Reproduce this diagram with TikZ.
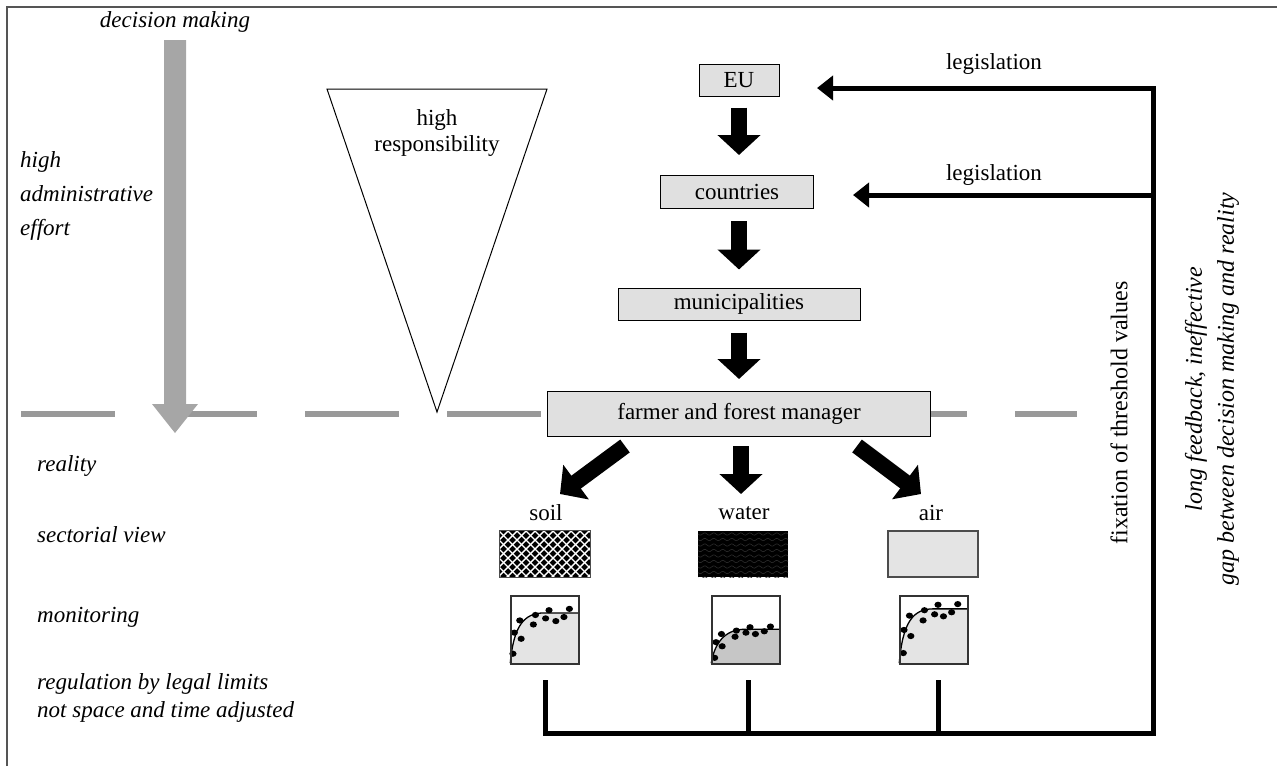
\documentclass[tikz,border=0pt]{standalone}
\usepackage{fontspec}
\setmainfont{Liberation Serif}
\usetikzlibrary{arrows.meta}
\definecolor{boxgray}{HTML}{E0E0E0}
\definecolor{lightfill}{HTML}{E4E4E4}
\definecolor{darkfill}{HTML}{C6C6C6}
\definecolor{dashgray}{HTML}{999999}
\definecolor{arrowgray}{HTML}{A6A6A6}
\definecolor{framegray}{HTML}{555555}
\definecolor{wavegray}{HTML}{2C2C2C}
\begin{document}
\begin{tikzpicture}[x=1pt,y=-1pt,
  every node/.style={font=\fontsize{23}{26}\selectfont, inner sep=0pt},
  lbl/.style={anchor=west, font=\fontsize{23}{26}\selectfont\itshape},
  box/.style={draw=black, line width=1pt, fill=boxgray},
  blk/.style={line width=16pt, -{Triangle[length=20pt,width=42pt]}},
  fb/.style={line width=5pt},
  fbarrow/.style={line width=5pt, -{Triangle[length=16pt,width=24pt]}},
  chartframe/.style={draw=black!80, line width=1.5pt, minimum width=68pt, minimum height=68pt},
  dot/.style={fill=black}
]
\useasboundingbox (0,0) rectangle (1277,766);
% frame
\draw[line width=1.5pt, framegray] (7,766) -- (7,7) -- (1277,7);

% dashed reality line
\draw[dashgray, line width=6pt, dash pattern=on 94pt off 48pt] (21,414) -- (1077,414);

% grey decision arrow
\fill[arrowgray] (164,40) -- (186,40) -- (186,404) -- (198,404) -- (175,433) -- (152,404) -- (164,404) -- cycle;
\node[font=\fontsize{23}{26}\selectfont\itshape] (dm) at (175,22) {decision making};
\node[lbl, align=left, font=\fontsize{23}{34}\selectfont\itshape] (hae) at (20,196) {high\\administrative\\effort};

% triangle
\draw[line width=1pt] (327,89) -- (547,89) -- (437,412) -- cycle;
\node[align=center] (hr) at (437,133) {high\\responsibility};

% hierarchy boxes
\node[box, minimum width=80pt, minimum height=32pt] (eu) at (739,80) {EU};
\node[box, minimum width=153pt, minimum height=33pt] (countries) at (737,192) {countries};
\node[box, minimum width=242pt, minimum height=32pt] (muni) at (739,304) {municipalities};
\node[box, minimum width=383pt, minimum height=45pt] (farmer) at (739,414) {farmer and forest manager};

\draw[blk, shorten <=11pt, shorten >=20pt] (eu.south) -- (eu.south |- countries.north);
\draw[blk, shorten <=12pt, shorten >=18pt] (countries.south -| eu.south) -- (eu.south |- muni.north);
\draw[blk, shorten <=12pt, shorten >=12pt] (muni.south -| eu.south) -- (eu.south |- farmer.north);

% sector labels
\node (soil) at (546,513) {soil};
\node (water) at (744,513) {water};
\node (air) at (931,513) {air};

\coordinate (lt) at (625,446);
\coordinate (mt) at (741,446);
\coordinate (rt) at (857,446);
\coordinate (lh) at (560,494);
\coordinate (mh) at (741,494);
\coordinate (rh) at (921,494);
\draw[blk] (lt) -- (lh);
\draw[blk] (mt) -- (mh);
\draw[blk] (rt) -- (rh);

% swatches
\node[minimum width=90pt, minimum height=46pt] (soilbox) at (545,554) {};
\begin{scope}
\clip (soilbox.north west) rectangle (soilbox.south east);
\fill[black] (soilbox.north west) rectangle (soilbox.south east);
\foreach \i in {-7,...,17} {
  \draw[white, line width=1.4pt] (490+\i*9,531) -- ++(50,50);
  \draw[white, line width=1.4pt] (490+\i*9,531) -- ++(-50,50);
}
\end{scope}
\draw[black!70, line width=1pt] (soilbox.north west) rectangle (soilbox.south east);

\node[minimum width=90pt, minimum height=46pt] (waterbox) at (743,554) {};
\begin{scope}
\clip (waterbox.north west) rectangle (waterbox.south east);
\fill[black] (waterbox.north west) rectangle (waterbox.south east);
\foreach \j in {0,...,8} {
  \draw[wavegray, line width=0.6pt] plot[domain=0:90, samples=60] ({698+\x}, {534+\j*5.5+1.2*sin(\x*40)});
}
\end{scope}

\node[draw=black!70, line width=1.2pt, fill=lightfill, minimum width=90pt, minimum height=46pt] (airbox) at (933,554) {};

% monitoring charts
\node[chartframe] (soilmon) at (545,630) {};
\node[chartframe] (watermon) at (746,630) {};
\node[chartframe] (airmon) at (934,630) {};

\begin{scope}[shift={(soilmon.north west)}, x=68pt, y=-68pt]
\fill[lightfill] (0,1) .. controls (0.05,0.45) and (0.2,0.26) .. (0.5,0.26) -- (1,0.26) -- (1,1) -- cycle;
\draw[line width=1.3pt] (0,1) .. controls (0.05,0.45) and (0.2,0.26) .. (0.5,0.26) -- (1,0.26);
\foreach \p in {(0.04,0.86),(0.06,0.55),(0.16,0.64),(0.14,0.37),(0.34,0.43),(0.37,0.29),(0.52,0.34),(0.57,0.22),(0.67,0.38),(0.79,0.32),(0.87,0.20)}
  \fill \p ellipse [x radius=3.6pt, y radius=3.1pt];
\end{scope}

\begin{scope}[shift={(watermon.north west)}, x=68pt, y=-68pt]
\fill[darkfill] (0,1) .. controls (0.05,0.7) and (0.2,0.5) .. (0.5,0.5) -- (1,0.5) -- (1,1) -- cycle;
\draw[line width=1.3pt] (0,1) .. controls (0.05,0.7) and (0.2,0.5) .. (0.5,0.5) -- (1,0.5);
\foreach \p in {(0.05,0.92),(0.07,0.69),(0.15,0.57),(0.16,0.75),(0.35,0.61),(0.37,0.52),(0.51,0.55),(0.57,0.47),(0.65,0.57),(0.78,0.53),(0.87,0.46)}
  \fill \p ellipse [x radius=3.6pt, y radius=3.1pt];
\end{scope}

\begin{scope}[shift={(airmon.north west)}, x=68pt, y=-68pt]
\fill[lightfill] (0,1) .. controls (0.05,0.4) and (0.2,0.2) .. (0.5,0.2) -- (1,0.2) -- (1,1) -- cycle;
\draw[line width=1.3pt] (0,1) .. controls (0.05,0.4) and (0.2,0.2) .. (0.5,0.2) -- (1,0.2);
\foreach \p in {(0.06,0.85),(0.07,0.51),(0.17,0.60),(0.15,0.30),(0.35,0.37),(0.37,0.22),(0.52,0.28),(0.57,0.14),(0.65,0.31),(0.77,0.25),(0.86,0.13)}
  \fill \p ellipse [x radius=3.6pt, y radius=3.1pt];
\end{scope}

\node[chartframe] at (soilmon) {};
\node[chartframe] at (watermon) {};
\node[chartframe] at (airmon) {};

% feedback loop
\coordinate (s1) at (545,680);
\coordinate (s2) at (748,680);
\coordinate (s3) at (938,680);
\coordinate (br) at (1153,733);
\coordinate (tr) at (1153,88);
\coordinate (leg1) at (817,88);
\coordinate (mr) at (1153,195);
\coordinate (leg2) at (853,195);
\draw[fbarrow, line join=miter] (s1) |- (br) -- (tr) -- (leg1);
\draw[fb] (s2) -- (s2 |- br);
\draw[fb] (s3) -- (s3 |- br);
\draw[fbarrow] (mr) -- (leg2);

\node (leglab1) at (994,64) {legislation};
\node (leglab2) at (994,175) {legislation};
\node[rotate=90, font=\fontsize{24}{28}\selectfont] (fix) at (1119,413) {fixation of threshold values};
\node[rotate=90, align=center, font=\fontsize{24}{32}\selectfont\itshape] (gap) at (1212,389) {long feedback, ineffective\\gap between decision making and reality};

% left labels
\node[lbl] (reality) at (37,466) {reality};
\node[lbl] (sect) at (37,535) {sectorial view};
\node[lbl] (mon) at (37,617) {monitoring};
\node[lbl, align=left, font=\fontsize{23}{28}\selectfont\itshape] (reg) at (37,698) {regulation by legal limits\\not space and time adjusted};
\end{tikzpicture}
\end{document}
